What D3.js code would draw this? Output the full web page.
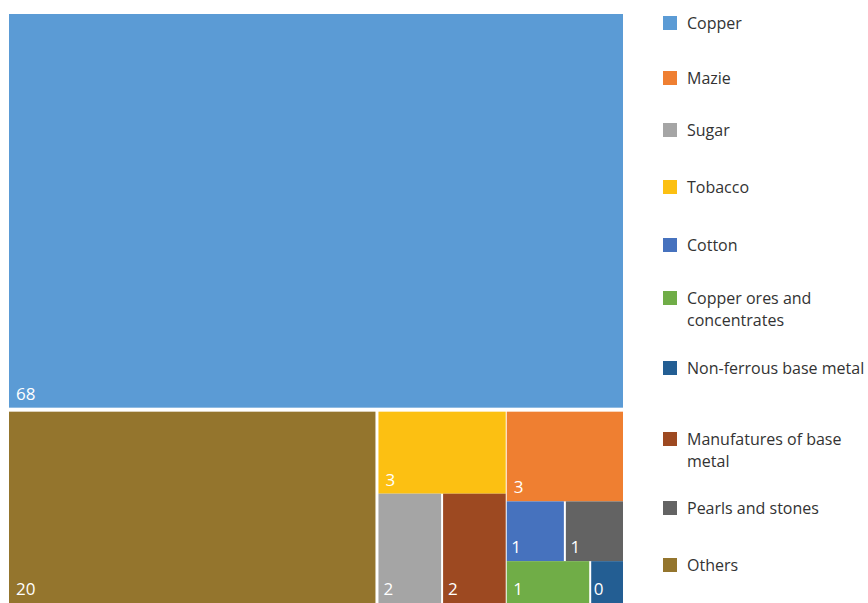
<!DOCTYPE html>
<html>
<head>
<meta charset="utf-8">
<script src="https://cdn.jsdelivr.net/npm/d3@7"></script>
<style>
  html, body { margin: 0; padding: 0; background: #ffffff; }
  svg { display: block; }
  text { font-family: "Open Sans", "Noto Sans", sans-serif; }
</style>
</head>
<body>
<svg id="chart" width="868" height="603"></svg>
<script>
// Export shares by product
const categories = [
  "Copper", "Mazie", "Sugar", "Tobacco", "Cotton",
  "Copper ores and concentrates", "Non-ferrous base metal",
  "Manufatures of base metal", "Pearls and stones", "Others"
];
const values = [68, 3, 2, 3, 1, 1, 0.4, 2, 1, 20];
const colors = [
  "#5b9bd5", "#ef7f31", "#a5a5a5", "#fcc012", "#4672be",
  "#70ad47", "#235e93", "#9d4921", "#636363", "#94752d"
];
// Legend text, broken into lines
const legendLines = [
  ["Copper"], ["Mazie"], ["Sugar"], ["Tobacco"], ["Cotton"],
  ["Copper ores and", "concentrates"], ["Non-ferrous base metal"],
  ["Manufatures of base", "metal"], ["Pearls and stones"], ["Others"]
];

const svg = d3.select("#chart");
const plot = { x: 9, y: 14, w: 614, h: 589 };

const leaf = name => {
  const i = categories.indexOf(name);
  return { name, value: values[i], color: colors[i] };
};

// Nested grouping: "v" stacks children top-to-bottom, "h" places them side by side
const tree = {
  split: "v", pad: 4, children: [
    leaf("Copper"),
    { split: "h", pad: 3, children: [
      leaf("Others"),
      { split: "h", pad: 1, children: [
        { split: "v", pad: 0, children: [
          leaf("Tobacco"),
          { split: "h", pad: 2, children: [leaf("Sugar"), leaf("Manufatures of base metal")] }
        ]},
        { split: "v", pad: 0, children: [
          leaf("Mazie"),
          { split: "h", pad: 2, children: [leaf("Cotton"), leaf("Pearls and stones")] },
          { split: "h", pad: 2, children: [leaf("Copper ores and concentrates"), leaf("Non-ferrous base metal")] }
        ]}
      ]}
    ]}
  ]
};

const root = d3.hierarchy(tree).sum(d => d.children ? 0 : d.value);

const tile = (node, x0, y0, x1, y1) =>
  (node.data.split === "v" ? d3.treemapSlice : d3.treemapDice)(node, x0, y0, x1, y1);

d3.treemap()
  .tile(tile)
  .size([plot.w, plot.h])
  .paddingInner(d => d.data.pad || 0)
  .round(false)(root);

const g = svg.append("g").attr("transform", `translate(${plot.x},${plot.y})`);
const fmt = d3.format(".0f");

const cells = g.selectAll("g.cell")
  .data(root.leaves())
  .join("g")
  .attr("class", "cell");

cells.append("rect")
  .attr("x", d => d.x0)
  .attr("y", d => d.y0)
  .attr("width", d => d.x1 - d.x0)
  .attr("height", d => d.y1 - d.y0)
  .attr("fill", d => d.data.color);

cells.append("text")
  .attr("x", d => d.x0 + Math.min(7, (d.x1 - d.x0) * 0.08))
  .attr("y", d => d.y1 - 8)
  .attr("fill", "#ffffff")
  .attr("font-size", 17)
  .text(d => fmt(d.data.value));

// Legend
const legendY = [23, 78, 130, 187, 245, 298, 368, 439, 508, 565];
const legend = svg.append("g").selectAll("g")
  .data(categories)
  .join("g")
  .attr("transform", (d, i) => `translate(663,${legendY[i]})`);

legend.append("rect")
  .attr("x", 0).attr("y", -7)
  .attr("width", 14).attr("height", 14)
  .attr("fill", (d, i) => colors[i]);

legend.append("text")
  .attr("x", 24)
  .attr("y", 5.5)
  .attr("fill", "#333333")
  .attr("font-size", 16)
  .selectAll("tspan")
  .data((d, i) => legendLines[i])
  .join("tspan")
  .attr("x", 24)
  .attr("dy", (d, j) => j === 0 ? 0 : 22)
  .text(d => d);
</script>
</body>
</html>
